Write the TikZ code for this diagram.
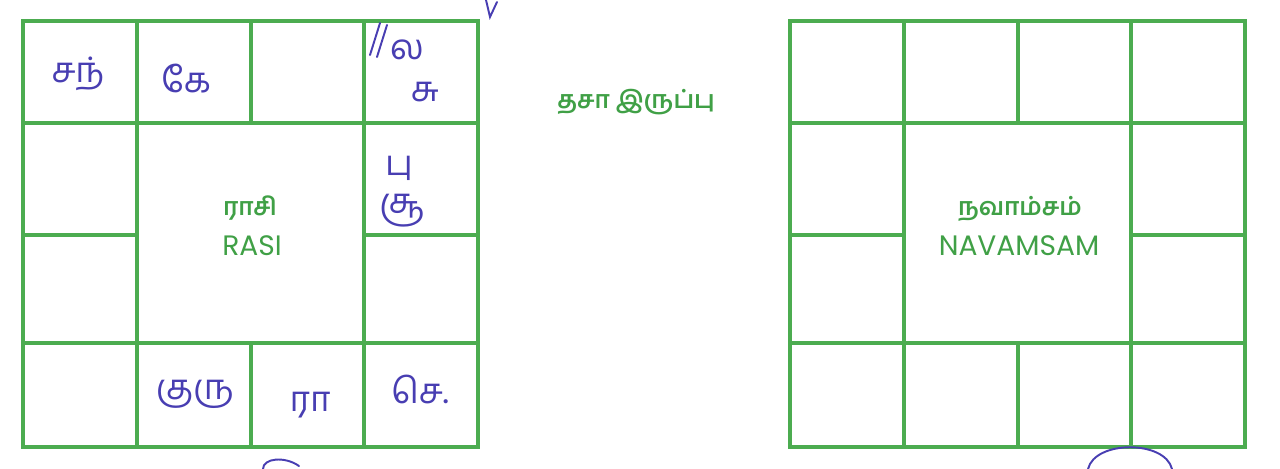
\documentclass[tikz,border=0pt]{standalone}
\usepackage{fontspec}
\newfontfamily\tamilfont[Script=Tamil]{Hind Madurai}
\newfontfamily\chartsans{Poppins}
\definecolor{chartgreen}{RGB}{76,172,80}
\definecolor{labelgreen}{RGB}{64,160,70}
\definecolor{ink}{RGB}{72,62,178}
\tikzset{
  gridline/.style={chartgreen,line width=2.1pt},
  tamtitle/.style={labelgreen,inner sep=0pt,font=\tamilfont\bfseries\fontsize{14}{14}\selectfont},
  engtitle/.style={labelgreen,inner sep=0pt,font=\chartsans\fontsize{16}{16}\selectfont},
  inkword/.style={ink,inner sep=0pt,font=\tamilfont\fontsize{20}{20}\selectfont},
  inkstroke/.style={ink,line width=1.1pt,line cap=round}
}

\begin{document}
\begin{tikzpicture}[x=0.02cm,y=-0.02cm]
\useasboundingbox (0,0) rectangle (1280,469);
\def\Cw{455}     % chart width
\def\Yt{21}\def\Ya{123}\def\Yb{235}\def\Yc{343}\def\Yd{447}
% ---------- the two charts: 4x4 grid with merged centre ----------
\foreach \X in {23,790}{
  \draw[gridline] (\X,\Yt) rectangle (\X+\Cw,\Yd);
  \draw[gridline] (\X,\Ya) -- (\X+\Cw,\Ya);
  \draw[gridline] (\X,\Yc) -- (\X+\Cw,\Yc);
  \foreach \c in {114,228,341}{
    \draw[gridline] (\X+\c,\Yt) -- (\X+\c,\Ya);
    \draw[gridline] (\X+\c,\Yc) -- (\X+\c,\Yd);
  }
  \draw[gridline] (\X+114,\Ya) -- (\X+114,\Yc);
  \draw[gridline] (\X+341,\Ya) -- (\X+341,\Yc);
  \draw[gridline] (\X,\Yb) -- (\X+114,\Yb);
  \draw[gridline] (\X+341,\Yb) -- (\X+\Cw,\Yb);
}
% ---------- printed titles ----------
\node[tamtitle] (rasiTa) at (250,208) {ராசி};
\node[engtitle] (rasiEn) at (252,246) {RASI};
\node[tamtitle] (navTa) at (1020,209) {நவாம்சம்};
\node[engtitle] (navEn) at (1019,246) {NAVAMSAM};
\node[tamtitle] (dasa) at (636,102) {தசா இருப்பு};
% ---------- handwritten entries in the rasi chart ----------
\node[inkword] (chan) at (78,74) {சந்};
\node[inkword] (ketu) at (186,79) {கே};
\node[inkword] (lag) at (407,50) {ல};
\node[inkword] (sukr) at (425,92) {சு};
\node[inkword] (budh) at (399,168) {பு};
\node[inkword] (sury) at (402,211) {சூ};
\node[inkword] (guru) at (195,394) {குரு};
\node[inkword] (rahu) at (310,405) {ரா};
\node[inkword] (sevv) at (420,389) {செ.};
% ---------- loose pen strokes ----------
\draw[inkstroke] (370,55) -- (380,23);
\draw[inkstroke] (377,57) -- (387,25);
\draw[inkstroke] (486,0) -- (490,17) -- (497,2);
\draw[inkstroke] (263,469) .. controls (263,458) and (285,456) .. (299,466);
\draw[inkstroke] (1088,469) .. controls (1095,440) and (1165,440) .. (1172,469);
\end{tikzpicture}
\end{document}
